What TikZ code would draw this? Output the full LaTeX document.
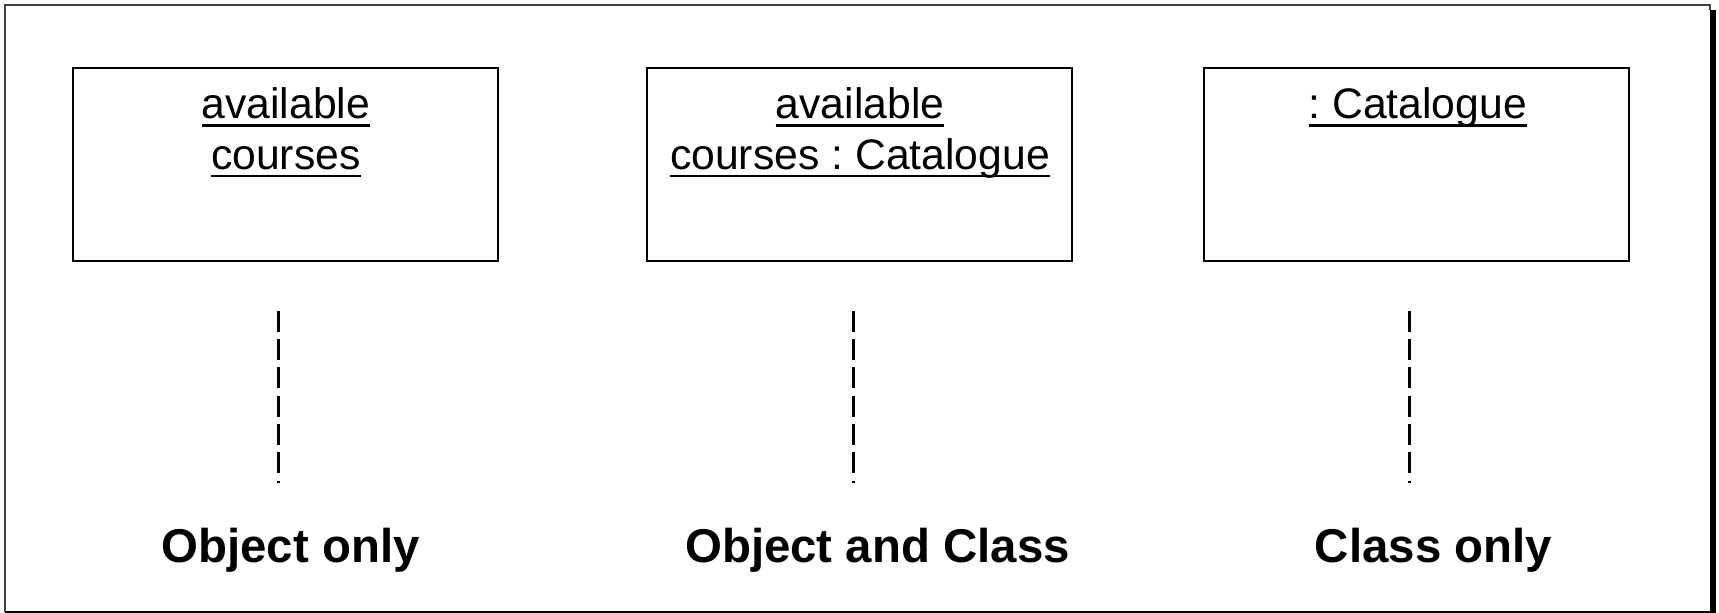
\documentclass[tikz,border=0pt]{standalone}
\usepackage{fontspec}
\setmainfont{Liberation Sans}
\frenchspacing
\newcommand{\umlul}[1]{\setbox0\hbox{#1}\rlap{\raisebox{-4.0pt}{\rule{\wd0}{1.35pt}}}\box0}
\begin{document}
\begin{tikzpicture}[x=0.5pt,y=-0.5pt,
  objbox/.style={draw=black, line width=1pt, minimum width=212.5pt, minimum height=96.5pt, inner sep=0pt, outer sep=0pt, anchor=north west},
  boxtext/.style={inner sep=0pt, anchor=base, font=\fontsize{21.35pt}{25pt}\selectfont},
  caption/.style={inner sep=0pt, anchor=base, font=\fontsize{23.7pt}{28pt}\selectfont\bfseries},
  lifeline/.style={line width=1.3pt, dash pattern=on 10.5pt off 3.67pt}]
\useasboundingbox (0,0) rectangle (1719,613);
% frame with shadow
\draw[black!75, line width=1pt] (5,612) -- (5,5) -- (1710,5) -- (1710,10);
\fill[black] (1709.5,10) rectangle (1716,613);
\draw[black, line width=1pt] (5,612) -- (1716,612);
% object boxes
\node[objbox] (b1) at (73.3,68.3) {};
\node[objbox] (b2) at (647.3,68.3) {};
\node[objbox] (b3) at (1203.6,68.3) {};
% box texts
\node[boxtext] (t1a) at (285.8,119) {\umlul{available}};
\node[boxtext] (t1b) at (285.8,169.3) {\umlul{courses}};
\node[boxtext] (t2a) at (860,119) {\umlul{available}};
\node[boxtext] (t2b) at (860,169.3) {\umlul{courses : Catalogue}};
\node[boxtext] (t3a) at (1417.7,119) {\umlul{: Catalogue}};
% dashed lines
\coordinate (l1top) at (278.3,310.7);
\coordinate (l1bot) at (278.3,482.7);
\coordinate (l2top) at (853.3,310.7);
\coordinate (l2bot) at (853.3,482.7);
\coordinate (l3top) at (1409.5,310.7);
\coordinate (l3bot) at (1409.5,482.7);
\draw[lifeline] (l1top) -- (l1bot);
\draw[lifeline] (l2top) -- (l2bot);
\draw[lifeline] (l3top) -- (l3bot);
% captions
\node[caption] (c1) at (290.5,563) {Object only};
\node[caption] (c2) at (877.5,563) {Object and Class};
\node[caption] (c3) at (1433.5,563) {Class only};
\end{tikzpicture}
\end{document}
